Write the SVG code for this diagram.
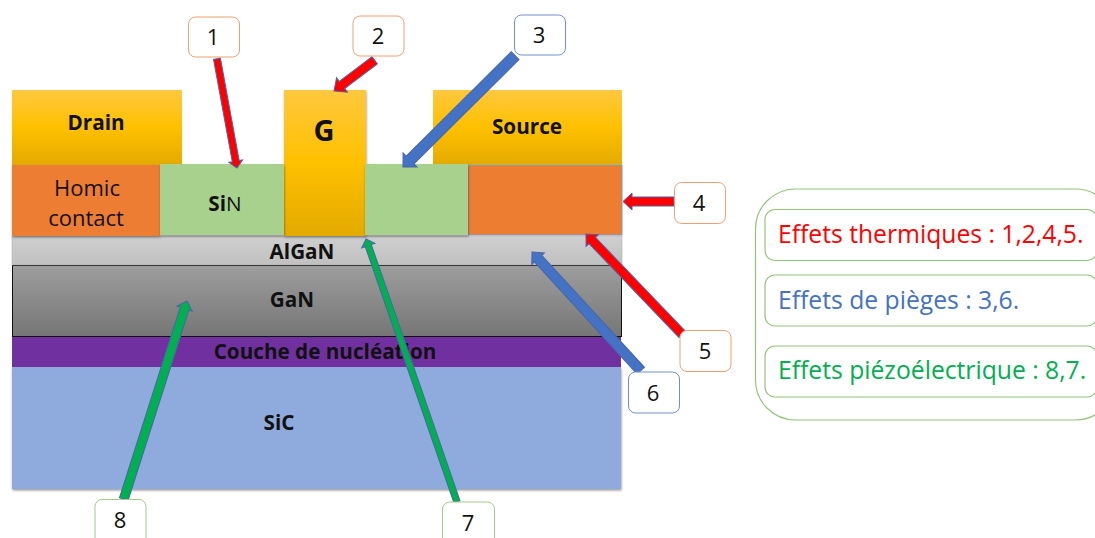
<svg xmlns="http://www.w3.org/2000/svg" width="1095" height="538" viewBox="0 0 1095 538">
<defs>
<linearGradient id="gold" x1="0" y1="0" x2="0" y2="1"><stop offset="0" stop-color="#ffc83f"/><stop offset="0.5" stop-color="#ffc000"/><stop offset="1" stop-color="#e3aa00"/></linearGradient>
<linearGradient id="gray1" x1="0" y1="0" x2="0" y2="1"><stop offset="0" stop-color="#cfcfcf"/><stop offset="1" stop-color="#c0c0c0"/></linearGradient>
<linearGradient id="gray2" x1="0" y1="0" x2="0" y2="1"><stop offset="0" stop-color="#9d9d9d"/><stop offset="1" stop-color="#767676"/></linearGradient>
<filter id="sh" x="-5%" y="-5%" width="110%" height="115%"><feDropShadow dx="0.5" dy="1.5" stdDeviation="1.2" flood-color="#000" flood-opacity="0.4"/></filter>
</defs>
<style>
text{font-family:"Open Sans","Noto Sans",sans-serif;fill:#111}
.b{font-weight:700;font-size:20.700px;text-anchor:middle}
.n{font-size:22px;text-anchor:middle}
.num{fill:#fff;stroke-width:1}
.o{stroke:#f0a070}.bl{stroke:#6f8fd0}.g{stroke:#a0cc85}
.a{stroke:#4a65a8;stroke-width:1}
.red{fill:#ff0000}.blue{fill:#4472c4}.green{fill:#00b050}
.leg{fill:#fff;stroke:#94c47a;stroke-width:1.2}
.lt{font-size:24.700px}
</style>
<rect width="1095" height="538" fill="#fff"/>
<g id="sic"><rect x="12" y="367" width="609" height="122" fill="#8faadc" filter="url(#sh)"/><text class="b" x="279" y="430">SiC</text></g>
<g id="nucleation"><rect x="12" y="337" width="609" height="30" fill="#7030a0"/><text class="b" x="325" y="359">Couche de nucléation</text></g>
<g id="gan"><rect x="12.500" y="265.500" width="609" height="71" fill="url(#gray2)" stroke="#111" stroke-width="1"/><text class="b" x="292" y="307">GaN</text></g>
<g id="algan"><rect x="12" y="236" width="610" height="29" fill="url(#gray1)" stroke="#aaa" stroke-width="0.500"/><text class="b" x="302" y="259">AlGaN</text></g>
<g id="drain"><rect x="12" y="90" width="170" height="75" fill="url(#gold)"/><text class="b" x="96" y="130">Drain</text></g>
<g id="source"><rect x="433" y="90" width="189" height="75" fill="url(#gold)"/><text class="b" x="527" y="134">Source</text></g>
<g id="homic"><rect x="12" y="165" width="148" height="71" fill="#ed7d31" filter="url(#sh)"/><text class="n" x="87" y="196">Homic</text><text class="n" x="86" y="226">contact</text></g>
<g id="contact2"><rect x="468" y="165.500" width="154" height="69.500" fill="#ed7d31" stroke="#7b9ad0" stroke-width="1"/></g>
<g id="gate"><rect x="284" y="90" width="82" height="146" fill="url(#gold)" filter="url(#sh)"/><text class="b" x="324" y="141" style="font-size:29px">G</text></g>
<g id="sin"><rect x="160" y="164" width="124" height="71" fill="#a9d18e" filter="url(#sh)"/><text class="b" x="225" y="211">Si<tspan font-weight="400">N</tspan></text></g>
<g id="sin2"><rect x="365" y="164" width="103" height="71" fill="#a9d18e" filter="url(#sh)"/></g>
<g id="connectors" class="a">
<polygon class="red" transform="translate(237,168) rotate(79.600)" points="0,0 -7,-7 -7,-3.500 -111,-3.500 -111,3.500 -7,3.500 -7,7"/>
<polygon class="red" transform="translate(334,91) rotate(142.900)" points="0,0 -10,-9 -10,-4.500 -51,-4.500 -51,4.500 -10,4.500 -10,9"/>
<polygon class="blue" transform="translate(403,167) rotate(135.200)" points="0,0 -10,-10 -10,-5.500 -158,-5.500 -158,5.500 -10,5.500 -10,10"/>
<polygon class="red" transform="translate(623,201.500) rotate(180)" points="0,0 -9,-8.500 -9,-4.500 -51,-4.500 -51,4.500 -9,4.500 -9,8.500"/>
<polygon class="red" transform="translate(586,234) rotate(-133.800)" points="0,0 -9,-8.500 -9,-4.500 -139,-4.500 -139,4.500 -9,4.500 -9,8.500"/>
<polygon class="blue" transform="translate(532,252) rotate(-132.500)" points="0,0 -9,-8.500 -9,-5 -161,-5 -161,5 -9,5 -9,8.500"/>
<polygon class="green" transform="translate(366,239) rotate(-109.100)" points="0,0 -7,-7 -7,-3.200 -278,-3.200 -278,3.200 -7,3.200 -7,7"/>
<polygon class="green" transform="translate(187,301) rotate(-72.300)" points="0,0 -8,-8 -8,-4.500 -208,-4.500 -208,4.500 -8,4.500 -8,8"/>
</g>
<g id="n1"><rect class="num o" x="188.500" y="17" width="51" height="40" rx="7"/><text class="n" x="213" y="45">1</text></g>
<g id="n2"><rect class="num o" x="353" y="16" width="51" height="40" rx="7"/><text class="n" x="378" y="44">2</text></g>
<g id="n3"><rect class="num bl" x="514.500" y="15" width="51" height="40" rx="7"/><text class="n" x="539" y="43">3</text></g>
<g id="n4"><rect class="num o" x="674.500" y="182.500" width="51" height="41" rx="7"/><text class="n" x="699" y="211">4</text></g>
<g id="n5"><rect class="num o" x="680" y="330.500" width="51" height="41" rx="7"/><text class="n" x="705" y="359">5</text></g>
<g id="n6"><rect class="num bl" x="628.500" y="372" width="51" height="41" rx="7"/><text class="n" x="653" y="401">6</text></g>
<g id="n7"><rect class="num g" x="442.500" y="502" width="52" height="50" rx="7"/><text class="n" x="468" y="531">7</text></g>
<g id="n8"><rect class="num g" x="95" y="499.500" width="51" height="50" rx="7"/><text class="n" x="120" y="528">8</text></g>
<g id="legend"><rect class="leg" x="755.500" y="189" width="360" height="231" rx="40"/></g>
<g id="effet-thermique"><rect class="leg" x="765" y="209.500" width="332" height="51" rx="10"/><text class="lt" x="778" y="243" style="fill:#ff0000">Effets thermiques : 1,2,4,5.</text></g>
<g id="effet-pieges"><rect class="leg" x="765" y="275" width="332" height="51" rx="10"/><text class="lt" x="778" y="309" style="fill:#4472c4">Effets de pièges : 3,6.</text></g>
<g id="effet-piezo"><rect class="leg" x="765" y="346" width="332" height="51" rx="10"/><text class="lt" x="778" y="379" style="fill:#00b050">Effets piézoélectrique : 8,7.</text></g>
</svg>
